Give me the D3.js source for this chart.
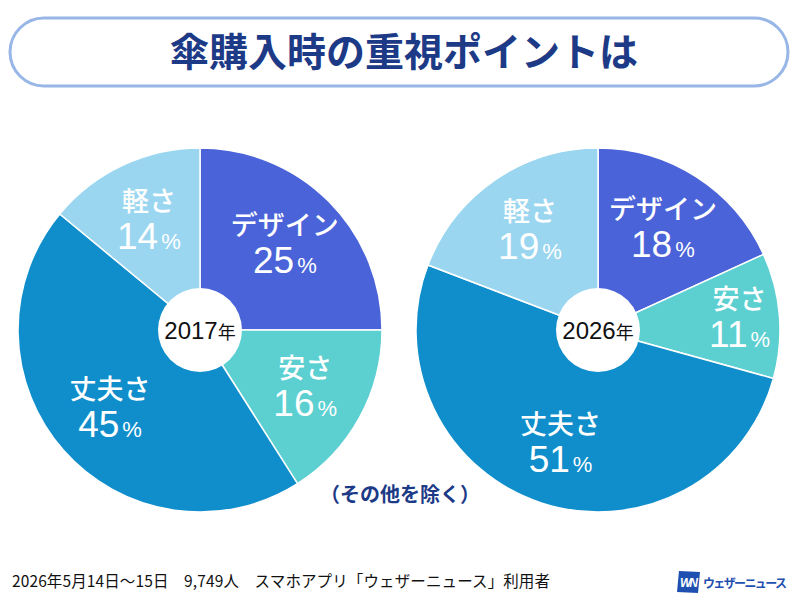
<!DOCTYPE html>
<meta charset="utf-8">
<html>
  <head>
    <title>傘購入時の重視ポイントは</title>
    <style>
      body { margin: 0; background: #fff; }
      svg { display: block; font-family: "Noto Sans CJK JP", "Noto Sans", sans-serif; }
      .slice { stroke: #fff; stroke-width: 1.5px; }
      .lbl { fill: #fff; font-weight: 500; text-anchor: middle; }
      .num { font-family: "Liberation Sans", Arial, sans-serif; }
    </style>
  </head>
  <body>
    <script src="https://d3js.org/d3.v7.min.js"></script>
    <script>

      // data
      var categories = ["デザイン", "安さ", "丈夫さ", "軽さ"];
      var colors = ["#4a63d9", "#5ccfd0", "#0f8ecb", "#9ad6f0"];
      var years = ["2017", "2026"];
      var values2017 = [25, 16, 45, 14];
      var values2026 = [18, 11, 51, 19];
      var title = "傘購入時の重視ポイントは";
      var note = "（その他を除く）";
      var footer = "2026年5月14日〜15日　9,749人　スマホアプリ「ウェザーニュース」利用者";
      var brand = "ウェザーニュース";

      var width = 800, height = 600;
      var radius = 182, holeR = 42;

      var svg = d3.select("body").append("svg")
          .attr("width", width)
          .attr("height", height);

      // title pill
      svg.append("rect")
          .attr("x", 10).attr("y", 18)
          .attr("width", 778).attr("height", 68)
          .attr("rx", 34).attr("ry", 34)
          .attr("fill", "#fff")
          .attr("stroke", "#98b6e6")
          .attr("stroke-width", 3);

      svg.append("text")
          .attr("x", 404).attr("y", 66)
          .attr("text-anchor", "middle")
          .attr("fill", "#1d3a87")
          .style("font-size", "39px")
          .style("font-weight", 700)
          .text(title);

      var x = d3.scalePoint().domain(years).range([200, 598]);

      var pie = d3.pie().sort(null).value(function(d) { return d; });
      var arc = d3.arc().innerRadius(0).outerRadius(radius);
      // small slices get their label pushed further out
      var labelArc = d3.arc().innerRadius(120).outerRadius(120);
      var labelArcOut = d3.arc().innerRadius(142).outerRadius(142);

      [values2017, values2026].forEach(function(vals, i) {
        var g = svg.append("g")
            .attr("transform", "translate(" + x(years[i]) + ",330)");

        var arcs = pie(vals);

        g.selectAll(".slice")
          .data(arcs)
          .enter().append("path")
            .attr("class", "slice")
            .attr("fill", function(d, j) { return colors[j]; })
            .attr("d", arc);

        var lbl = g.selectAll(".lbl")
          .data(arcs)
          .enter().append("text")
            .attr("class", "lbl")
            .attr("transform", function(d) {
              var small = (d.endAngle - d.startAngle) < 0.12 * 2 * Math.PI;
              var c = (small ? labelArcOut : labelArc).centroid(d);
              return "translate(" + c[0] + "," + c[1] + ")";
            });

        lbl.append("tspan")
            .attr("x", 0).attr("y", -10)
            .style("font-size", "27px")
            .text(function(d, j) { return categories[j]; });

        lbl.append("tspan")
            .attr("class", "num")
            .attr("x", 0).attr("y", 28)
            .style("font-size", "37px")
            .text(function(d) { return d.data; });
        lbl.append("tspan")
            .attr("class", "num")
            .style("font-size", "22px")
            .attr("dx", 3)
            .text("%");

        g.append("circle")
            .attr("r", holeR)
            .attr("fill", "#fff");

        var yr = g.append("text")
            .attr("text-anchor", "middle")
            .attr("y", 9)
            .attr("fill", "#111");
        yr.append("tspan")
            .attr("class", "num")
            .style("font-size", "24px")
            .text(years[i]);
        yr.append("tspan")
            .style("font-size", "18px")
            .text("年");
      });

      svg.append("text")
          .attr("x", 400).attr("y", 502)
          .attr("text-anchor", "middle")
          .attr("fill", "#1d3a87")
          .style("font-size", "20px")
          .style("font-weight", 700)
          .text(note);

      svg.append("text")
          .attr("x", 12).attr("y", 587)
          .attr("fill", "#111")
          .attr("textLength", 538)
          .style("font-size", "15.5px")
          .text(footer);

      // logo
      var logo = svg.append("g").attr("transform", "translate(677,571)");
      logo.append("path")
          .attr("d", "M2,0 L23,1 L21,22 L0,21 Z")
          .attr("fill", "#1f4fb0");
      logo.append("text")
          .attr("x", 11).attr("y", 16)
          .attr("text-anchor", "middle")
          .attr("fill", "#fff")
          .style("font-size", "12px")
          .style("font-weight", 700)
          .style("font-style", "italic")
          .style("font-family", "Liberation Sans, Arial, sans-serif")
          .style("letter-spacing", "-2px")
          .text("WN");
      logo.append("text")
          .attr("x", 26).attr("y", 17)
          .attr("fill", "#1f4fb0")
          .attr("textLength", 84)
          .style("font-size", "12px")
          .style("font-weight", 700)
          .text(brand);

    </script>
  </body>
</html>
